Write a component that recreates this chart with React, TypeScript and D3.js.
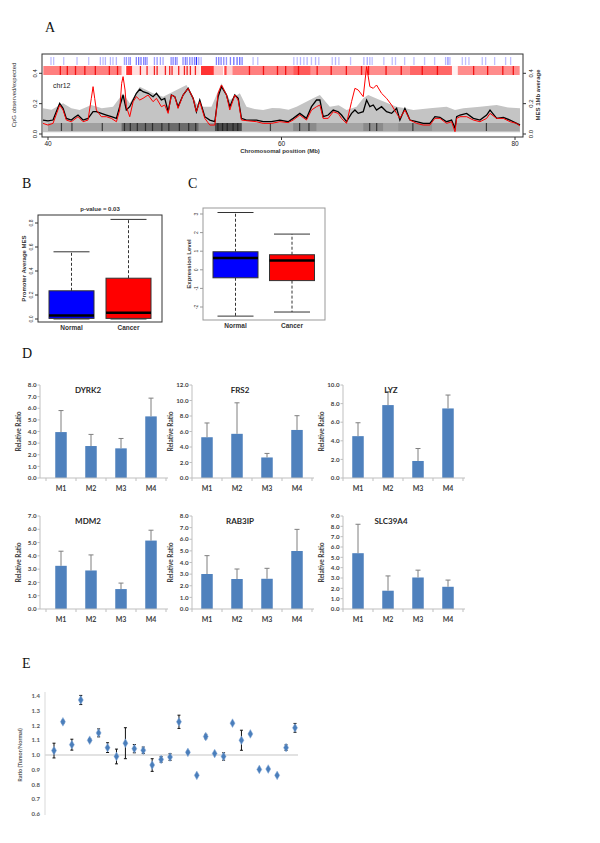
import React from "react";
import * as d3 from "d3";

// ---------------- Panel A data ----------------
const posTicks = [40, 60, 80];
const cpgTicks = [0.0, 0.2, 0.4];
// [Mb, value]
const normalLine: [number, number][] = [
  [39.57, 0.092], [40.0, 0.086], [40.43, 0.092], [40.71, 0.147], [41.0, 0.202], [41.29, 0.169], [41.57, 0.103],
  [42.0, 0.092], [42.29, 0.11], [42.57, 0.125], [43.0, 0.092], [43.43, 0.103], [43.86, 0.147], [44.14, 0.147],
  [44.57, 0.136], [45.0, 0.125], [45.43, 0.114], [45.86, 0.103], [46.14, 0.18], [46.43, 0.257], [46.71, 0.158],
  [47.0, 0.18], [47.29, 0.224], [47.57, 0.268], [47.86, 0.295], [48.14, 0.279], [48.57, 0.268], [49.0, 0.246],
  [49.29, 0.268], [49.71, 0.224], [50.0, 0.235], [50.29, 0.147], [50.57, 0.257], [50.86, 0.246], [51.14, 0.18],
  [51.57, 0.257], [52.0, 0.301], [52.43, 0.235], [52.71, 0.147], [53.0, 0.224], [53.43, 0.114], [53.86, 0.092],
  [54.29, 0.081], [54.57, 0.246], [54.86, 0.312], [55.29, 0.257], [55.57, 0.18], [56.0, 0.257], [56.29, 0.235],
  [56.57, 0.103], [57.0, 0.092], [57.86, 0.092], [58.43, 0.081], [59.14, 0.081], [59.86, 0.092], [60.57, 0.081],
  [61.0, 0.103], [61.57, 0.136], [62.14, 0.103], [62.57, 0.18], [63.0, 0.224], [63.29, 0.224], [63.57, 0.114],
  [64.0, 0.125], [64.43, 0.158], [64.86, 0.147], [65.14, 0.125], [65.57, 0.081], [66.0, 0.136], [66.29, 0.158],
  [66.57, 0.136], [67.0, 0.147], [67.29, 0.224], [67.57, 0.18], [67.86, 0.191], [68.14, 0.158], [68.57, 0.18],
  [69.0, 0.147], [69.43, 0.136], [69.86, 0.169], [70.14, 0.092], [70.57, 0.169], [71.0, 0.092], [71.57, 0.081],
  [72.14, 0.07], [72.71, 0.07], [73.14, 0.114], [73.57, 0.11], [74.14, 0.081], [74.57, 0.092], [74.86, 0.037],
  [75.0, 0.114], [75.29, 0.125], [75.86, 0.136], [76.43, 0.103], [77.0, 0.092], [77.57, 0.125], [77.86, 0.158],
  [78.43, 0.103], [79.0, 0.11], [79.57, 0.092], [80.14, 0.07], [80.43, 0.059],
];
const cancerLine: [number, number][] = [
  [39.57, 0.07], [40.0, 0.059], [40.43, 0.07], [41.0, 0.191], [41.29, 0.158], [41.57, 0.092], [42.0, 0.081],
  [42.57, 0.114], [43.0, 0.081], [43.43, 0.092], [43.71, 0.235], [43.86, 0.312], [44.0, 0.235], [44.14, 0.158],
  [44.57, 0.114], [45.0, 0.114], [45.43, 0.103], [45.86, 0.081], [46.14, 0.158], [46.31, 0.334], [46.43, 0.378],
  [46.6, 0.29], [46.71, 0.18], [47.0, 0.114], [47.29, 0.213], [47.57, 0.246], [47.86, 0.224], [48.14, 0.235],
  [48.57, 0.257], [49.0, 0.213], [49.29, 0.235], [49.71, 0.18], [50.0, 0.191], [50.29, 0.136], [50.57, 0.257],
  [50.86, 0.246], [51.14, 0.169], [51.57, 0.257], [52.0, 0.301], [52.43, 0.235], [52.71, 0.147], [53.0, 0.213],
  [53.43, 0.103], [53.86, 0.059], [54.29, 0.059], [54.57, 0.268], [54.86, 0.323], [55.29, 0.257], [55.57, 0.158],
  [56.0, 0.257], [56.29, 0.224], [56.57, 0.092], [57.0, 0.088], [57.86, 0.081], [58.43, 0.07], [59.14, 0.07],
  [59.86, 0.081], [60.57, 0.075], [61.0, 0.092], [61.57, 0.125], [62.14, 0.092], [62.57, 0.158], [63.0, 0.18],
  [63.29, 0.191], [63.57, 0.103], [64.0, 0.103], [64.43, 0.147], [64.86, 0.136], [65.14, 0.103], [65.57, 0.07],
  [66.0, 0.213], [66.29, 0.301], [66.57, 0.29], [67.0, 0.246], [67.29, 0.444], [67.57, 0.312], [67.86, 0.301],
  [68.14, 0.323], [68.57, 0.268], [69.0, 0.235], [69.43, 0.191], [69.86, 0.136], [70.14, 0.103], [70.57, 0.158],
  [71.0, 0.092], [71.57, 0.07], [72.14, 0.059], [72.71, 0.059], [73.14, 0.103], [73.57, 0.103], [74.14, 0.07],
  [74.57, 0.081], [74.86, 0.015], [75.0, 0.103], [75.29, 0.114], [75.86, 0.114], [76.43, 0.092], [77.0, 0.081],
  [77.57, 0.103], [77.86, 0.136], [78.43, 0.103], [79.0, 0.103], [79.57, 0.081], [80.14, 0.07], [80.43, 0.053],
];
const cpgBand: [number, number][] = [
  [39.57, 0.169], [40.3, 0.16], [41.29, 0.202], [42.0, 0.17], [42.71, 0.158], [43.71, 0.191], [44.6, 0.17],
  [45.57, 0.18], [46.43, 0.268], [47.0, 0.202], [47.86, 0.312], [49.0, 0.268], [49.86, 0.246], [50.71, 0.279],
  [51.86, 0.323], [52.71, 0.202], [53.29, 0.18], [54.0, 0.18], [54.86, 0.334], [55.57, 0.224], [56.43, 0.268],
  [57.0, 0.18], [57.7, 0.165], [58.43, 0.158], [59.2, 0.172], [59.86, 0.169], [60.6, 0.16], [61.29, 0.18],
  [62.71, 0.235], [63.29, 0.257], [64.14, 0.18], [64.9, 0.19], [65.57, 0.158], [66.43, 0.18], [67.0, 0.235],
  [67.43, 0.257], [68.43, 0.224], [69.86, 0.18], [70.6, 0.17], [71.29, 0.158], [72.71, 0.169], [74.14, 0.18],
  [74.86, 0.158], [75.57, 0.169], [76.3, 0.175], [77.0, 0.18], [78.43, 0.191], [79.4, 0.175], [80.43, 0.169],
];
// [Mb, opacity]
const blueTicks: [number, number][] = [
  [40.2, 0.3], [40.43, 0.3], [41.29, 0.3], [42.43, 0.3], [43.43, 0.3], [44.43, 0.35], [44.66, 0.3], [44.86, 0.35],
  [45.29, 0.35], [45.51, 0.3], [45.8, 0.35], [46.49, 0.45], [46.66, 0.5], [46.86, 0.45], [47.0, 0.5], [47.51, 0.6],
  [47.71, 0.7], [47.91, 0.65], [48.14, 0.6], [48.29, 0.55], [48.43, 0.5], [49.06, 0.45], [49.29, 0.5], [49.57, 0.45],
  [49.8, 0.4], [50.49, 0.55], [50.66, 0.6], [50.86, 0.6], [51.0, 0.5], [51.51, 0.55], [51.71, 0.6], [51.86, 0.55],
  [52.09, 0.6], [52.29, 0.55], [52.49, 0.6], [52.66, 1.0], [52.86, 0.45], [53.06, 0.35], [54.37, 0.6], [54.57, 0.65],
  [54.77, 0.6], [55.0, 0.55], [55.23, 0.5], [55.57, 0.6], [55.86, 0.7], [56.14, 0.7], [56.37, 0.75], [56.57, 0.6],
  [57.51, 0.3], [57.91, 0.3], [61.0, 0.3], [61.29, 0.3], [61.57, 0.35], [61.86, 0.3], [62.14, 0.35], [62.51, 0.3],
  [62.86, 0.35], [63.14, 0.3], [64.29, 0.3], [64.57, 0.35], [64.86, 0.3], [65.86, 0.3], [67.0, 0.35], [67.29, 0.4],
  [67.51, 0.35], [67.71, 0.3], [68.71, 0.3], [69.43, 0.3], [69.71, 0.3], [70.49, 0.3], [71.29, 0.3], [72.2, 0.3],
  [73.06, 0.3], [74.0, 0.35], [74.2, 0.55], [74.37, 0.35], [75.43, 0.3], [75.71, 0.3], [76.0, 0.3], [77.14, 0.3],
  [77.43, 0.3], [78.2, 0.3], [79.14, 0.3], [79.57, 0.3],
];
// [startMb, endMb, opacity]
const redSegments: [number, number, number][] = [
  [39.6, 46.3, 0.5], [46.3, 46.6, 0.08], [46.7, 47.2, 0.8], [47.2, 53.0, 0.12], [53.1, 54.2, 0.8],
  [54.2, 55.0, 0.25], [55.1, 55.3, 0.75], [55.3, 55.8, 0.2], [55.8, 61.0, 0.5], [61.0, 62.5, 0.65],
  [62.5, 71.0, 0.45], [71.0, 74.6, 0.6], [74.6, 75.1, 0.05], [75.1, 80.4, 0.45],
];
const redAccents: number[] = [
  41.0, 41.6, 42.3, 43.1, 44.0, 45.2, 45.9, 47.86, 48.43, 49.06, 49.29, 50.0, 50.37, 50.57, 51.14, 51.63, 51.86,
  52.14, 52.57, 57.2, 58.4, 59.6, 60.3, 61.4, 63.0, 64.2, 65.5, 66.8, 67.4, 68.9, 70.2, 72.0, 73.3, 76.4, 77.6,
  78.9, 79.8,
];
const graySegments: [number, number, number][] = [
  [40.0, 46.3, 0.22], [46.3, 52.9, 0.55], [52.9, 54.3, 0.3], [54.3, 56.6, 0.75], [56.6, 61.0, 0.18],
  [61.0, 63.0, 0.35], [63.0, 67.0, 0.2], [67.0, 68.7, 0.35], [68.7, 70.0, 0.2], [70.0, 72.9, 0.3], [72.9, 80.4, 0.2],
];
const grayAccents: number[] = [
  41.1, 42.0, 44.6, 46.5, 47.0, 47.6, 48.3, 48.9, 49.7, 50.3, 51.2, 52.0, 52.6, 54.5, 54.9, 55.3, 55.8, 56.2, 59.0,
  61.5, 62.3, 67.5, 68.1, 71.2, 77.5,
];

// ---------------- Panel B / C data ----------------
const boxGroups = ["Normal", "Cancer"];
const bTicks = [0.0, 0.2, 0.4, 0.6, 0.8];
const bMin = [0.0, 0.0];
const bQ1 = [0.005, 0.005];
const bMedian = [0.03, 0.053];
const bQ3 = [0.235, 0.34];
const bMax = [0.56, 0.83];
const cTicks = [-2, -1, 0, 1, 2, 3];
const cMin = [-2.49, -2.27];
const cQ1 = [-0.43, -0.58];
const cMedian = [0.63, 0.5];
const cQ3 = [0.97, 0.81];
const cMax = [3.08, 1.92];

// ---------------- Panel D data ----------------
const samples = ["M1", "M2", "M3", "M4"];
const genes = ["DYRK2", "FRS2", "LYZ", "MDM2", "RAB3IP", "SLC39A4"];
const dyrk2Mean = [3.95, 2.75, 2.55, 5.3];
const dyrk2Sd = [1.85, 1.0, 0.85, 1.57];
const frs2Mean = [5.26, 5.7, 2.65, 6.2];
const frs2Sd = [1.84, 4.0, 0.52, 1.84];
const lyzMean = [4.5, 7.84, 1.83, 7.48];
const lyzSd = [1.44, 1.44, 1.34, 1.44];
const mdm2Mean = [3.25, 2.9, 1.5, 5.15];
const mdm2Sd = [1.1, 1.17, 0.45, 0.78];
const rab3ipMean = [3.01, 2.58, 2.6, 4.99];
const rab3ipSd = [1.58, 0.86, 0.9, 1.86];
const slc39a4Mean = [5.4, 1.77, 3.05, 2.15];
const slc39a4Sd = [2.8, 1.43, 0.71, 0.65];
const geneAxisMax = [8, 12, 10, 7, 8, 9];
const geneTickStep = [1, 2, 2, 1, 1, 1];

// ---------------- Panel E data ----------------
const eTicks = [0.6, 0.7, 0.8, 0.9, 1.0, 1.1, 1.2, 1.3, 1.4];
const eRatio = [1.03, 1.225, 1.07, 1.373, 1.1, 1.15, 1.05, 0.99, 1.08, 1.043, 1.032, 0.932, 0.97, 0.986,
  1.225, 1.018, 0.862, 1.125, 1.01, 0.99, 1.216, 1.1, 1.143, 0.902, 0.905, 0.862, 1.05, 1.184];
const eErr = [0.05, 0.01, 0.037, 0.031, 0.01, 0.027, 0.033, 0.05, 0.105, 0.028, 0.022, 0.043, 0.019, 0.023,
  0.045, 0.008, 0.0, 0.015, 0.0, 0.025, 0.005, 0.068, 0.004, 0.0, 0.0, 0.006, 0.019, 0.03];

const SANS = "'Liberation Sans', Arial, Helvetica, sans-serif";
const CAL = "Lato, 'Open Sans', sans-serif";
const SERIF = "'Liberation Serif', 'Times New Roman', serif";

function PanelA() {
  const L = 42, R = 523, T = 54, B = 137;
  const x = d3.scaleLinear().domain([40, 80]).range([48, 515]);
  const y = d3.scaleLinear().domain([0, 0.4]).range([134, 73.3]);
  const area = d3.area<[number, number]>().x(d => x(d[0])).y0(y(0.012)).y1(d => y(d[1]));
  const line = d3.line<[number, number]>().x(d => x(d[0])).y(d => y(d[1]));
  return (
    <g>
      <defs>
        <clipPath id="clipA"><rect x={L} y={T} width={R - L} height={B - T} /></clipPath>
      </defs>
      <g clipPath="url(#clipA)">
        <path d={area(cpgBand) || ""} fill="#c4c4c4" />
        {graySegments.map((s, i) => (
          <rect key={"gs" + i} x={x(s[0])} y={123} width={x(s[1]) - x(s[0])} height={8} fill="#222" fillOpacity={s[2]} />
        ))}
        {grayAccents.map((m, i) => (
          <rect key={"ga" + i} x={x(m)} y={123} width={1.2} height={8} fill="#111" fillOpacity={0.7} />
        ))}
        <path d={line(normalLine) || ""} fill="none" stroke="#000" strokeWidth={1.3} />
        <path d={line(cancerLine) || ""} fill="none" stroke="#ff0000" strokeWidth={1} />
        {blueTicks.map((b, i) => (
          <rect key={"bt" + i} x={x(b[0])} y={57} width={1.3} height={8} fill="#3030ff" fillOpacity={b[1]} />
        ))}
        {redSegments.map((s, i) => (
          <rect key={"rs" + i} x={x(s[0])} y={66} width={x(s[1]) - x(s[0])} height={9} fill="#ff0000" fillOpacity={s[2]} />
        ))}
        {redAccents.map((m, i) => (
          <rect key={"ra" + i} x={x(m)} y={66} width={1.3} height={9} fill="#ee0000" fillOpacity={0.85} />
        ))}
      </g>
      <rect x={L} y={T} width={R - L} height={B - T} fill="none" stroke="#333" strokeWidth={1} />
      <text x={53} y={88} fontSize={7} fontFamily={SANS} fill="#222">chr12</text>
      {cpgTicks.map(t => (
        <g key={"lt" + t}>
          <line x1={L} x2={L - 3} y1={y(t)} y2={y(t)} stroke="#333" />
          <text transform={`translate(${L - 5},${y(t)}) rotate(-90)`} textAnchor="middle" fontSize={6} fontFamily={SANS} fill="#222">{t.toFixed(1)}</text>
          <line x1={R} x2={R + 3} y1={y(t)} y2={y(t)} stroke="#333" />
          <text transform={`translate(${R + 10},${y(t)}) rotate(-90)`} textAnchor="middle" fontSize={6} fontFamily={SANS} fill="#222">{t.toFixed(1)}</text>
        </g>
      ))}
      {posTicks.map(t => (
        <g key={"xt" + t}>
          <line x1={x(t)} x2={x(t)} y1={B} y2={B + 3} stroke="#333" />
          <text x={x(t)} y={B + 9} textAnchor="middle" fontSize={6.5} fontFamily={SANS} fill="#222">{t}</text>
        </g>
      ))}
      <text x={280} y={153} textAnchor="middle" fontSize={6} fontWeight="bold" fontFamily={SANS} fill="#333">Chromosomal position (Mb)</text>
      <text transform={`translate(16,95) rotate(-90)`} textAnchor="middle" fontSize={6} fontFamily={SANS} fill="#333">CpG observed/expected</text>
      <text transform={`translate(540,95) rotate(-90)`} textAnchor="middle" fontSize={6} fontWeight="bold" fontFamily={SANS} fill="#333">MES 1Mb average</text>
    </g>
  );
}

type BoxProps = {
  frame: [number, number, number, number];
  yDomain: [number, number];
  yRange: [number, number];
  ticks: number[];
  tickFmt: (v: number) => string;
  xRange: [number, number];
  mins: number[]; q1s: number[]; meds: number[]; q3s: number[]; maxs: number[];
  frameColor: string;
  ylabel: string;
  ylabelX: number;
  title?: string;
};

function BoxPanel(p: BoxProps) {
  const [fx, fy, fw, fh] = p.frame;
  const y = d3.scaleLinear().domain(p.yDomain).range(p.yRange);
  const x = d3.scalePoint<string>().domain(boxGroups).range(p.xRange).padding(0.5);
  const bw = 45;
  const fills = ["#0000ff", "#ff0000"];
  return (
    <g fontFamily={SANS}>
      {boxGroups.map((g, i) => {
        const cx = x(g) as number;
        return (
          <g key={g}>
            <line x1={cx} x2={cx} y1={y(p.q3s[i])} y2={y(p.maxs[i])} stroke="#333" strokeDasharray="3,2" />
            <line x1={cx} x2={cx} y1={y(p.q1s[i])} y2={y(p.mins[i])} stroke="#333" strokeDasharray="3,2" />
            <line x1={cx - 18} x2={cx + 18} y1={y(p.maxs[i])} y2={y(p.maxs[i])} stroke="#333" />
            <line x1={cx - 18} x2={cx + 18} y1={y(p.mins[i])} y2={y(p.mins[i])} stroke="#333" />
            <rect x={cx - bw / 2} y={y(p.q3s[i])} width={bw} height={y(p.q1s[i]) - y(p.q3s[i])} fill={fills[i]} stroke="#333" strokeWidth={1} />
            <line x1={cx - bw / 2} x2={cx + bw / 2} y1={y(p.meds[i])} y2={y(p.meds[i])} stroke="#000" strokeWidth={2.5} />
            <text x={cx} y={fy + fh + 8} textAnchor="middle" fontSize={6.5} fontWeight="bold" fill="#333">{g}</text>
          </g>
        );
      })}
      <rect x={fx} y={fy} width={fw} height={fh} fill="none" stroke={p.frameColor} strokeWidth={1} />
      {p.ticks.map(t => (
        <g key={t}>
          <line x1={fx} x2={fx - 3} y1={y(t)} y2={y(t)} stroke={p.frameColor} />
          <text transform={`translate(${fx - 5},${y(t)}) rotate(-90)`} textAnchor="middle" fontSize={5} fill="#333">{p.tickFmt(t)}</text>
        </g>
      ))}
      <text transform={`translate(${p.ylabelX},${fy + fh / 2}) rotate(-90)`} textAnchor="middle" fontSize={6} fontWeight="bold" fill="#333">{p.ylabel}</text>
      {p.title && <text x={fx + fw / 2} y={fy - 4} textAnchor="middle" fontSize={6} fontWeight="bold" fill="#333">{p.title}</text>}
    </g>
  );
}

function BarChart({ idx, means, sds }: { idx: number; means: number[]; sds: number[] }) {
  const col = idx % 3, row = Math.floor(idx / 3);
  const axisX = [40, 192, 343][col];
  const bandStart = [46, 192, 343][col];
  const zeroY = [478, 609][row];
  const topY = [385, 516][row];
  const max = geneAxisMax[idx];
  const step = geneTickStep[idx];
  const y = d3.scaleLinear().domain([0, max]).range([zeroY, topY]);
  const x = d3.scaleBand<string>().domain(samples).range([bandStart, bandStart + 120]);
  const ticks = y.ticks(max / step);
  const bw = 11.5;
  const fmt = d3.format(".1f");
  return (
    <g fontFamily={CAL}>
      <line x1={axisX} x2={axisX} y1={topY} y2={zeroY} stroke="#bfbfbf" />
      {ticks.map(t => (
        <g key={t}>
          <line x1={axisX - 2.5} x2={axisX} y1={y(t)} y2={y(t)} stroke="#bfbfbf" />
          <text x={axisX - 3.5} y={y(t) + 2.2} textAnchor="end" fontSize={6.2} fontWeight="bold" fill="#404040">{fmt(t)}</text>
        </g>
      ))}
      {samples.map((s, i) => {
        const cx = (x(s) as number) + x.bandwidth() / 2;
        return (
          <g key={s}>
            <rect x={cx - bw / 2} y={y(means[i])} width={bw} height={zeroY - y(means[i])} fill="#4f81bd" />
            <line x1={cx} x2={cx} y1={y(means[i])} y2={y(means[i] + sds[i])} stroke="#7f7f7f" strokeWidth={1} />
            <line x1={cx - 2.5} x2={cx + 2.5} y1={y(means[i] + sds[i])} y2={y(means[i] + sds[i])} stroke="#7f7f7f" strokeWidth={1} />
            <text x={cx} y={zeroY + 13} textAnchor="middle" fontSize={7} fontWeight="bold" fill="#404040">{s}</text>
          </g>
        );
      })}
      <line x1={axisX} x2={bandStart + 122} y1={zeroY} y2={zeroY} stroke="#bfbfbf" />
      {samples.map(s => (
        <line key={"t" + s} x1={(x(s) as number) + x.bandwidth()} x2={(x(s) as number) + x.bandwidth()} y1={zeroY} y2={zeroY + 3} stroke="#bfbfbf" />
      ))}
      <line x1={bandStart} x2={bandStart} y1={zeroY} y2={zeroY + 3} stroke="#bfbfbf" />
      <text x={axisX + 48} y={topY + 8} textAnchor="middle" fontSize={8} fontWeight="bold" fill="#262626">{genes[idx]}</text>
      <text transform={`translate(${axisX - 19},${(topY + zeroY) / 2}) rotate(-90)`} textAnchor="middle" fontSize={6.5} fontWeight="bold" fill="#404040">Relative Ratio</text>
    </g>
  );
}

function PanelE() {
  const y = d3.scaleLinear().domain([0.6, 1.4]).range([814, 696]);
  const x = d3.scalePoint<number>().domain(eRatio.map((_, i) => i)).range([54, 295]);
  const diamond = d3.symbol().type(d3.symbolDiamond).size(22)() || "";
  const fmt = d3.format(".1f");
  return (
    <g fontFamily={CAL}>
      <line x1={45} x2={45} y1={692} y2={815} stroke="#d9d9d9" />
      <line x1={45} x2={298} y1={y(1.0)} y2={y(1.0)} stroke="#d9d9d9" strokeWidth={1.5} />
      {eTicks.map(t => (
        <text key={t} x={40} y={y(t) + 2} textAnchor="end" fontSize={6} fontWeight="bold" fill="#595959">{fmt(t)}</text>
      ))}
      <text transform={`translate(22,755) rotate(-90)`} textAnchor="middle" fontSize={5.5} fontWeight="bold" fill="#595959">Ratio (Tumor/Normal)</text>
      {eRatio.map((v, i) => {
        const cx = x(i) as number;
        const e = eErr[i];
        return (
          <g key={i}>
            {e > 0 && (
              <g stroke="#111" strokeWidth={1}>
                <line x1={cx} x2={cx} y1={y(v - e)} y2={y(v + e)} />
                <line x1={cx - 1.5} x2={cx + 1.5} y1={y(v - e)} y2={y(v - e)} />
                <line x1={cx - 1.5} x2={cx + 1.5} y1={y(v + e)} y2={y(v + e)} />
              </g>
            )}
            <path d={diamond} transform={`translate(${cx},${y(v)})`} fill="#4a7ebb" stroke="#8fb0dd" strokeWidth={0.5} />
          </g>
        );
      })}
    </g>
  );
}

export default function App() {
  const geneMeans = [dyrk2Mean, frs2Mean, lyzMean, mdm2Mean, rab3ipMean, slc39a4Mean];
  const geneSds = [dyrk2Sd, frs2Sd, lyzSd, mdm2Sd, rab3ipSd, slc39a4Sd];
  return (
    <svg width={600} height={843} style={{ position: "absolute", left: 0, top: 0, background: "#fff" }}>
      <rect x={0} y={0} width={600} height={843} fill="#fff" />
      <PanelA />
      <BoxPanel
        frame={[38, 215, 124, 107]}
        yDomain={[0, 0.8]} yRange={[319, 223]}
        ticks={bTicks} tickFmt={v => v.toFixed(1)}
        xRange={[43, 157]}
        mins={bMin} q1s={bQ1} meds={bMedian} q3s={bQ3} maxs={bMax}
        frameColor="#333" ylabel="Promoter Average MES" ylabelX={26} title="p-value = 0.03"
      />
      <BoxPanel
        frame={[203, 208, 122, 112]}
        yDomain={[-2, 3]} yRange={[307, 214]}
        ticks={cTicks} tickFmt={v => String(v)}
        xRange={[207.25, 320.25]}
        mins={cMin} q1s={cQ1} meds={cMedian} q3s={cQ3} maxs={cMax}
        frameColor="#999" ylabel="Expression Level" ylabelX={191}
      />
      {genes.map((g, i) => (
        <BarChart key={g} idx={i} means={geneMeans[i]} sds={geneSds[i]} />
      ))}
      <PanelE />
      <g fontFamily={SERIF} fontSize={14} fill="#111">
        <text x={45} y={32}>A</text>
        <text x={22} y={188}>B</text>
        <text x={188} y={188}>C</text>
        <text x={22} y={358}>D</text>
        <text x={22} y={668}>E</text>
      </g>
    </svg>
  );
}
